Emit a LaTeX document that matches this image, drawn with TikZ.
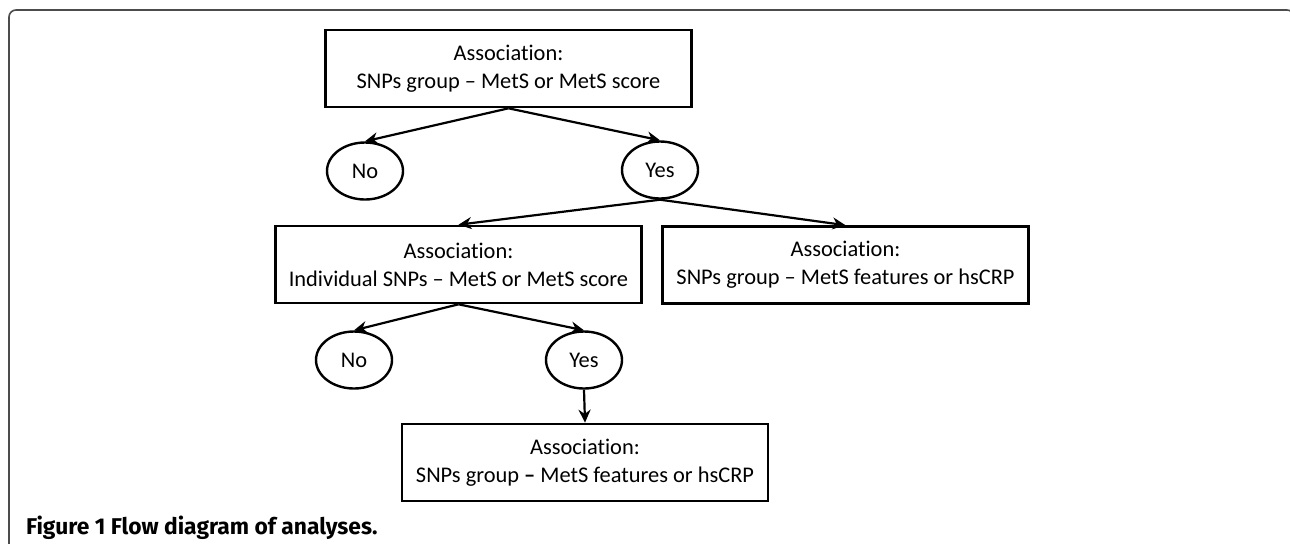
\documentclass[tikz,border=0pt]{standalone}
\usepackage{fontspec}
\setmainfont{Carlito}[Ligatures=NoCommon]
\newfontfamily\capfont{Fira Sans}
\usetikzlibrary{arrows.meta,shapes.geometric,positioning}

\tikzset{
  assoc/.style={draw,line width=1.3pt,minimum width=183pt,minimum height=38.5pt,
    align=center,font=\fontsize{11.2}{14}\selectfont},
  answer/.style={ellipse,draw,line width=1.2pt,minimum width=38pt,minimum height=28.5pt,
    inner sep=0pt,font=\fontsize{11.2}{14}\selectfont},
  frame/.style={draw=black!70,line width=0.8pt,rounded corners=3.5pt}
}

\begin{document}
\begin{tikzpicture}[x=0.5pt,y=-0.5pt,>={Stealth[length=6.5pt,width=6pt]},line width=1.1pt]

        \useasboundingbox (0,0) rectangle (1290,543);
        \clip (0,0) rectangle (1290,543);
        \draw[frame] (9,560) -- (9,10) -- (1294,10) -- (1294,560);

        \node[assoc]  (A1) at (508.5,68.5) {Association:\\SNPs group -- MetS or MetS score};
        \node[answer] (N1) at (365,171)    {No};
        \node[answer] (Y1) at (660,170)    {Yes};
        \node[assoc]  (A2) at (458.5,264.5) {Association:\\Individual SNPs -- MetS or MetS score};
        \node[assoc]  (A3) at (845.5,265)  {Association:\\SNPs group -- MetS features or hsCRP};
        \node[answer] (N2) at (354,360)    {No};
        \node[answer] (Y2) at (584,360)    {Yes};
        \node[assoc]  (A4) at (585,462.5)  {Association:\\SNPs group {\bfseries --} MetS features or hsCRP};

        \node[anchor=base west,inner sep=0pt,font=\capfont\fontsize{11.4}{13}\selectfont\bfseries]
              (CAP) at (25,534) {Figure 1 Flow diagram of analyses.};

        \path[->]
                  (A1.south) edge (N1.north)
                             edge (Y1.north)
                  (Y1.south) edge (A2.north)
                             edge (A3.north)
                  (A2.south) edge (N2.north)
                             edge (Y2.north)
                  (Y2.south) edge (A4.north);
      \end{tikzpicture}
\end{document}
